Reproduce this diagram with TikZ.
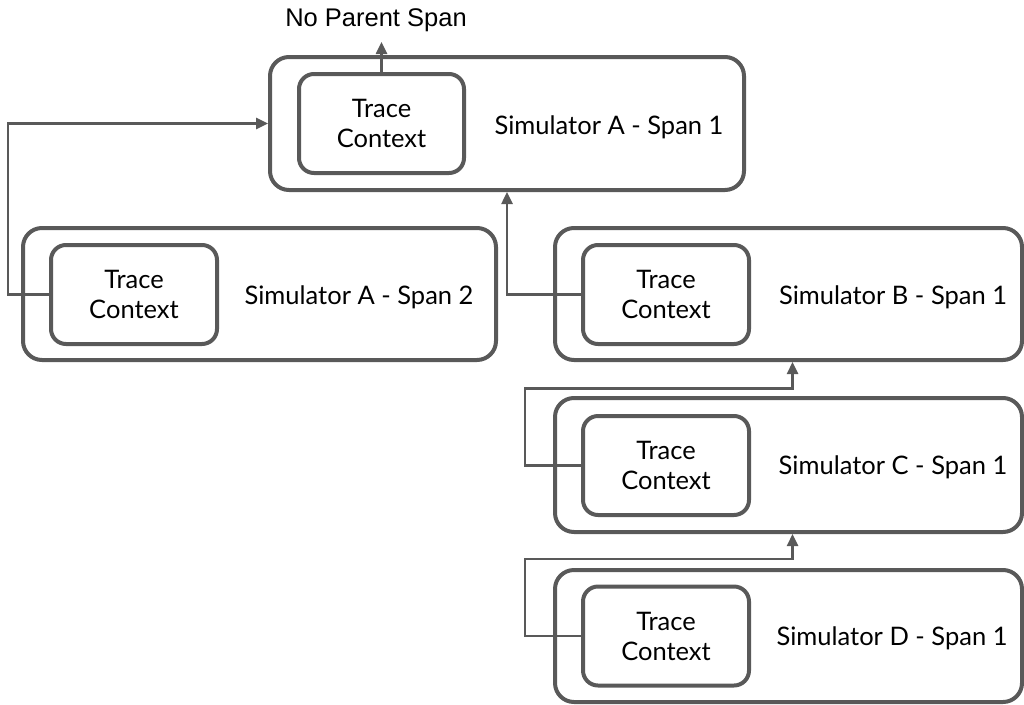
\documentclass[tikz,border=0pt]{standalone}
\usepackage{fontspec}
\setmainfont{Lato}
\newfontfamily\arialfont{Liberation Sans}
\usetikzlibrary{arrows.meta}
\definecolor{lc}{HTML}{595959}
\tikzset{
  outerbox/.style={draw=lc, line width=4pt, rounded corners=19pt, inner sep=0pt},
  innerbox/.style={draw=lc, line width=4pt, rounded corners=15pt, inner sep=0pt, align=center,
    font=\fontsize{25.5}{30}\selectfont},
  lbl/.style={font=\fontsize{25.5}{30}\selectfont, inner sep=0pt},
  conn/.style={draw=lc, line width=2.5pt, -{Triangle[length=12pt,width=11pt]}},
}
\begin{document}
\begin{tikzpicture}[x=1pt,y=-1pt]
\useasboundingbox (0,0) rectangle (1024,704);
% outer boxes
\node[outerbox, minimum width=474pt, minimum height=133pt] (a1) at (507,123.5) {};
\node[outerbox, minimum width=473pt, minimum height=132pt] (a2) at (259.5,294) {};
\node[outerbox, minimum width=467pt, minimum height=132pt] (b) at (788.5,294) {};
\node[outerbox, minimum width=467pt, minimum height=134pt] (c) at (788.5,465) {};
\node[outerbox, minimum width=467pt, minimum height=132pt] (d) at (788.5,636) {};
% inner boxes
\node[innerbox, minimum width=165pt, minimum height=99pt] (at) at (381.5,123.5) {Trace\\Context};
\node[innerbox, minimum width=166pt, minimum height=99pt] (a2t) at (134,294.5) {Trace\\Context};
\node[innerbox, minimum width=166pt, minimum height=99pt] (bt) at (666,294.5) {Trace\\Context};
\node[innerbox, minimum width=166pt, minimum height=99pt] (ct) at (666,465.5) {Trace\\Context};
\node[innerbox, minimum width=166pt, minimum height=99pt] (dt) at (666,636) {Trace\\Context};
% labels
\node[lbl] (la1) at (609,127) {Simulator A - Span 1};
\node[lbl] (la2) at (359,297) {Simulator A - Span 2};
\node[lbl] (lb) at (893,297) {Simulator B - Span 1};
\node[lbl] (lc) at (893,467) {Simulator C - Span 1};
\node[lbl] (ld) at (892,638) {Simulator D - Span 1};
\node[font=\arialfont\fontsize{25.5}{28}\selectfont, inner sep=0pt] (np) at (376,20) {No Parent Span};
\coordinate (nptip) at (381.5,42);
% connectors
\draw[conn] (at.north) -- (nptip);
\draw[conn] (a2t.west) -- ++(-41,0) |- (a1.west);
\draw[conn] (bt.west) -| (a1.south);
\draw[conn] (ct.west) -- ++(-56,0) -- ++(0,-77) -| ([xshift=4pt]b.south);
\draw[conn] (dt.west) -- ++(-56,0) -- ++(0,-77) -| ([xshift=4pt]c.south);
\end{tikzpicture}
\end{document}
